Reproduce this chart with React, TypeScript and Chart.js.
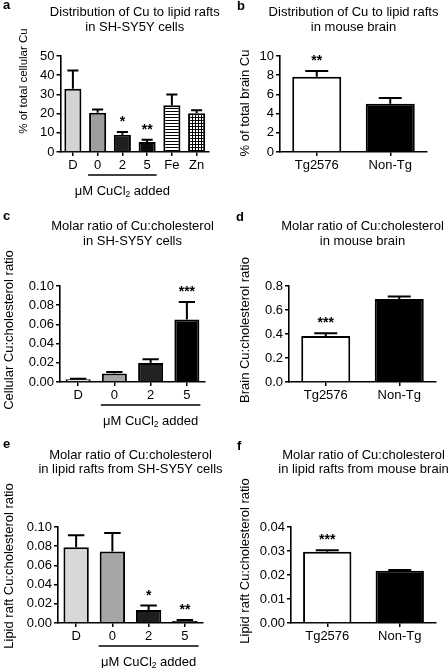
import React, { useEffect, useRef } from "react";
import { Chart, registerables } from "chart.js";

Chart.register(...registerables);

const FONT = "'Liberation Sans', Arial, Helvetica, sans-serif";

// ---- Panel a: Distribution of Cu to lipid rafts in SH-SY5Y cells ----
const aCategories = ["D", "0", "2", "5", "Fe", "Zn"];
const aMeans = [33.0, 20.5, 9.0, 5.2, 24.4, 20.2];
const aErrors = [9.5, 1.7, 1.4, 1.2, 5.5, 1.5];
const aStars = ["", "", "*", "**", "", ""];
const aTicks = [0, 10, 20, 30, 40, 50];

// ---- Panel b: Distribution of Cu to lipid rafts in mouse brain ----
const bCategories = ["Tg2576", "Non-Tg"];
const bMeans = [7.83, 5.03];
const bErrors = [0.61, 0.59];
const bStars = ["**", ""];
const bTicks = [0, 2, 4, 6, 8, 10];

// ---- Panel c: Molar ratio Cu:cholesterol in SH-SY5Y cells ----
const cCategories = ["D", "0", "2", "5"];
const cMeans = [0.0028, 0.0088, 0.0199, 0.065];
const cErrors = [0.0007, 0.0016, 0.0037, 0.0183];
const cStars = ["", "", "", "***"];
const cTicks = [0, 0.02, 0.04, 0.06, 0.08, 0.1];

// ---- Panel d: Molar ratio Cu:cholesterol in mouse brain ----
const dCategories = ["Tg2576", "Non-Tg"];
const dMeans = [0.384, 0.691];
const dErrors = [0.022, 0.022];
const dStars = ["***", ""];
const dTicks = [0, 0.2, 0.4, 0.6, 0.8];

// ---- Panel e: Molar ratio in lipid rafts from SH-SY5Y cells ----
const eCategories = ["D", "0", "2", "5"];
const eMeans = [0.079, 0.0746, 0.0136, 0.0021];
const eErrors = [0.0123, 0.0191, 0.0045, 0.001];
const eStars = ["", "", "*", "**"];
const eTicks = [0, 0.02, 0.04, 0.06, 0.08, 0.1];

// ---- Panel f: Molar ratio in lipid rafts from mouse brain ----
const fCategories = ["Tg2576", "Non-Tg"];
const fMeans = [0.0297, 0.0218];
const fErrors = [0.0006, 0.0003];
const fStars = ["***", ""];
const fTicks = [0, 0.01, 0.02, 0.03, 0.04];

const Y_W = 40;
const X_H = 25;

function stripePattern(grid: boolean) {
  const c = document.createElement("canvas");
  c.width = 3;
  c.height = 3;
  const g = c.getContext("2d")!;
  g.fillStyle = "#fff";
  g.fillRect(0, 0, 3, 3);
  g.fillStyle = "#000";
  g.fillRect(0, 0, 3, 1);
  if (grid) g.fillRect(0, 0, 1, 3);
  return g.createPattern(c, "repeat");
}

type Panel = {
  id: string;
  box: { left: number; top: number; w: number; h: number };
  plot: { l: number; r: number; t: number; b: number };
  letter: { x: number; y: number };
  title: string[];
  titleY: number[];
  yLabel: string;
  yLabelPos: { x: number; y: number };
  yLabelSize: number;
  cats: string[];
  means: number[];
  errs: number[];
  stars: string[];
  ticks: number[];
  dec: number;
  colors: (string | CanvasPattern | null)[] | "patternA";
  barPct: number;
  underline: boolean;
};

const panels: Panel[] = [
  {
    id: "a",
    box: { left: 0, top: 0, w: 224, h: 212 },
    plot: { l: 60.5, r: 209, t: 56, b: 152 },
    letter: { x: 3, y: 9 },
    title: ["Distribution of Cu to lipid rafts", "in SH-SY5Y cells"],
    titleY: [12, 27],
    yLabel: "% of total cellular Cu",
    yLabelPos: { x: 24, y: 81 },
    yLabelSize: 11.5,
    cats: aCategories,
    means: aMeans,
    errs: aErrors,
    stars: aStars,
    ticks: aTicks,
    dec: 0,
    colors: "patternA",
    barPct: 0.69,
    underline: true,
  },
  {
    id: "b",
    box: { left: 224, top: 0, w: 224, h: 212 },
    plot: { l: 280, r: 427, t: 56, b: 152 },
    letter: { x: 237, y: 10 },
    title: ["Distribution of Cu to lipid rafts", "in mouse brain"],
    titleY: [12, 27],
    yLabel: "% of total brain Cu",
    yLabelPos: { x: 245, y: 103 },
    yLabelSize: 13,
    cats: bCategories,
    means: bMeans,
    errs: bErrors,
    stars: bStars,
    ticks: bTicks,
    dec: 0,
    colors: ["#ffffff", "#000000"],
    barPct: 0.667,
    underline: false,
  },
  {
    id: "c",
    box: { left: 0, top: 212, w: 224, h: 228 },
    plot: { l: 60, r: 205, t: 286, b: 382 },
    letter: { x: 3, y: 220 },
    title: ["Molar ratio of Cu:cholesterol", "in SH-SY5Y cells"],
    titleY: [226, 241],
    yLabel: "Cellular Cu:cholesterol ratio",
    yLabelPos: { x: 9, y: 330 },
    yLabelSize: 13,
    cats: cCategories,
    means: cMeans,
    errs: cErrors,
    stars: cStars,
    ticks: cTicks,
    dec: 2,
    colors: ["#efefef", "#a4a4a4", "#222222", "#000000"],
    barPct: 0.69,
    underline: true,
  },
  {
    id: "d",
    box: { left: 224, top: 212, w: 224, h: 228 },
    plot: { l: 289, r: 436, t: 286, b: 382 },
    letter: { x: 236, y: 221 },
    title: ["Molar ratio of Cu:cholesterol", "in mouse brain"],
    titleY: [226, 241],
    yLabel: "Brain Cu:cholesterol ratio",
    yLabelPos: { x: 245, y: 330 },
    yLabelSize: 13,
    cats: dCategories,
    means: dMeans,
    errs: dErrors,
    stars: dStars,
    ticks: dTicks,
    dec: 1,
    colors: ["#ffffff", "#000000"],
    barPct: 0.667,
    underline: false,
  },
  {
    id: "e",
    box: { left: 0, top: 440, w: 224, h: 228 },
    plot: { l: 58, r: 203, t: 527, b: 623 },
    letter: { x: 3, y: 448 },
    title: ["Molar ratio of Cu:cholesterol", "in lipid rafts from SH-SY5Y cells"],
    titleY: [455, 469],
    yLabel: "Lipid raft Cu:cholesterol ratio",
    yLabelPos: { x: 9, y: 566 },
    yLabelSize: 13,
    cats: eCategories,
    means: eMeans,
    errs: eErrors,
    stars: eStars,
    ticks: eTicks,
    dec: 2,
    colors: ["#d8d8d8", "#a6a6a6", "#1e1e1e", "#000000"],
    barPct: 0.7,
    underline: true,
  },
  {
    id: "f",
    box: { left: 224, top: 440, w: 224, h: 228 },
    plot: { l: 291, r: 436, t: 527, b: 623 },
    letter: { x: 237, y: 450 },
    title: ["Molar ratio of Cu:cholesterol", "in lipid rafts from mouse brain"],
    titleY: [455, 469],
    yLabel: "Lipid raft Cu:cholesterol ratio",
    yLabelPos: { x: 245, y: 561 },
    yLabelSize: 13,
    cats: fCategories,
    means: fMeans,
    errs: fErrors,
    stars: fStars,
    ticks: fTicks,
    dec: 2,
    colors: ["#ffffff", "#000000"],
    barPct: 0.667,
    underline: false,
  },
];

function drawAddedLabel(ctx: CanvasRenderingContext2D, cx: number, cy: number) {
  const size = 13;
  const main = `${size}px ${FONT}`;
  const sub = `${size * 0.65}px ${FONT}`;
  const p1 = "\u03bcM CuCl";
  const p2 = "2";
  const p3 = " added";
  ctx.font = main;
  const w1 = ctx.measureText(p1).width;
  const w3 = ctx.measureText(p3).width;
  ctx.font = sub;
  const w2 = ctx.measureText(p2).width;
  const total = w1 + w2 + w3;
  let x = cx - total / 2;
  ctx.textAlign = "left";
  ctx.textBaseline = "middle";
  ctx.font = main;
  ctx.fillText(p1, x, cy);
  x += w1;
  ctx.font = sub;
  ctx.fillText(p2, x, cy + 4);
  x += w2;
  ctx.font = main;
  ctx.fillText(p3, x, cy);
}

function annotPlugin(p: Panel) {
  return {
    id: "annot_" + p.id,
    afterDraw(chart: any) {
      const ctx: CanvasRenderingContext2D = chart.ctx;
      const ox = p.box.left;
      const oy = p.box.top;
      ctx.save();
      ctx.fillStyle = "#000";
      ctx.strokeStyle = "#000";
      const meta = chart.getDatasetMeta(0);
      const ys = chart.scales.y;
      meta.data.forEach((bar: any, i: number) => {
        const top = ys.getPixelForValue(p.means[i] + p.errs[i]);
        const cap = Math.min(bar.width * 0.65, 23);
        ctx.lineWidth = 2;
        ctx.beginPath();
        ctx.moveTo(bar.x, bar.y);
        ctx.lineTo(bar.x, top);
        ctx.moveTo(bar.x - cap / 2, top);
        ctx.lineTo(bar.x + cap / 2, top);
        ctx.stroke();
        if (p.stars[i]) {
          ctx.font = `bold 14px ${FONT}`;
          ctx.textAlign = "center";
          ctx.textBaseline = "alphabetic";
          ctx.fillText(p.stars[i], bar.x, top - 6);
        }
      });
      // titles
      ctx.font = `13px ${FONT}`;
      ctx.textAlign = "center";
      ctx.textBaseline = "middle";
      const cx = (chart.chartArea.left + chart.chartArea.right) / 2;
      p.title.forEach((t, k) => ctx.fillText(t, cx, p.titleY[k] - oy));
      // panel letter
      ctx.font = `bold 13px ${FONT}`;
      ctx.textAlign = "left";
      ctx.textBaseline = "alphabetic";
      ctx.fillText(p.id, p.letter.x - ox, p.letter.y - oy);
      // y axis label
      ctx.save();
      ctx.translate(p.yLabelPos.x - ox, p.yLabelPos.y - oy);
      ctx.rotate(-Math.PI / 2);
      ctx.font = `${p.yLabelSize}px ${FONT}`;
      ctx.textAlign = "center";
      ctx.textBaseline = "middle";
      ctx.fillText(p.yLabel, 0, 0);
      ctx.restore();
      // bracket for CuCl2 groups
      if (p.underline) {
        const b1 = meta.data[1];
        const b3 = meta.data[3];
        const x1 = b1.x - b1.width / 2 - 1;
        const x2 = b3.x + b3.width / 2 + 1;
        const ly = chart.chartArea.bottom + 23;
        ctx.lineWidth = 1.6;
        ctx.beginPath();
        ctx.moveTo(x1, ly);
        ctx.lineTo(x2, ly);
        ctx.stroke();
        drawAddedLabel(ctx, (x1 + x2) / 2, ly + 16);
      }
      ctx.restore();
    },
  };
}

function PanelChart({ p }: { p: Panel }) {
  const ref = useRef<HTMLCanvasElement | null>(null);
  useEffect(() => {
    const canvas = ref.current!;
    const colors =
      p.colors === "patternA"
        ? ["#d3d3d3", "#9e9e9e", "#202020", "#0a0a0a", stripePattern(false), stripePattern(true)]
        : p.colors;
    const tickFont = { family: FONT, size: 13 };
    const chart = new Chart(canvas, {
      type: "bar",
      data: {
        labels: p.cats,
        datasets: [
          {
            data: p.means,
            backgroundColor: colors as any,
            borderColor: "#000",
            borderWidth: 2,
            barPercentage: p.barPct,
            categoryPercentage: 1,
          },
        ],
      },
      options: {
        animation: false,
        responsive: false,
        devicePixelRatio: 1,
        layout: {
          padding: {
            left: p.plot.l - p.box.left - Y_W,
            top: p.plot.t - p.box.top,
            right: p.box.left + p.box.w - p.plot.r,
            bottom: p.box.top + p.box.h - p.plot.b - X_H,
          },
        },
        plugins: {
          legend: { display: false },
          title: { display: false },
          tooltip: { enabled: false },
        },
        scales: {
          x: {
            type: "category",
            offset: true,
            grid: {
              display: true,
              drawOnChartArea: false,
              drawTicks: true,
              tickLength: 4,
              offset: false,
              color: "#000",
              lineWidth: 1.5,
            },
            border: { display: true, color: "#000", width: 1.6 },
            ticks: { color: "#000", font: tickFont, padding: 2, maxRotation: 0, autoSkip: false },
            afterFit: (s: any) => {
              s.height = X_H;
            },
          },
          y: {
            type: "linear",
            min: 0,
            max: p.ticks[p.ticks.length - 1],
            grid: {
              display: true,
              drawOnChartArea: false,
              drawTicks: true,
              tickLength: 4,
              color: "#000",
              lineWidth: 1.5,
            },
            border: { display: true, color: "#000", width: 1.6 },
            ticks: {
              color: "#000",
              font: tickFont,
              padding: 2,
              callback: (v: any) => Number(v).toFixed(p.dec),
            },
            afterBuildTicks: (s: any) => {
              s.ticks = p.ticks.map((v) => ({ value: v }));
            },
            afterFit: (s: any) => {
              s.width = Y_W;
            },
          },
        },
      } as any,
      plugins: [annotPlugin(p)],
    });
    return () => chart.destroy();
  }, [p]);
  return (
    <canvas
      ref={ref}
      width={p.box.w}
      height={p.box.h}
      style={{
        position: "absolute",
        left: p.box.left,
        top: p.box.top,
        width: p.box.w,
        height: p.box.h,
      }}
    />
  );
}

export default function App() {
  return (
    <div
      style={{
        position: "absolute",
        left: 0,
        top: 0,
        width: 448,
        height: 668,
        background: "#fff",
        overflow: "hidden",
      }}
    >
      {panels.map((p) => (
        <PanelChart key={p.id} p={p} />
      ))}
    </div>
  );
}
